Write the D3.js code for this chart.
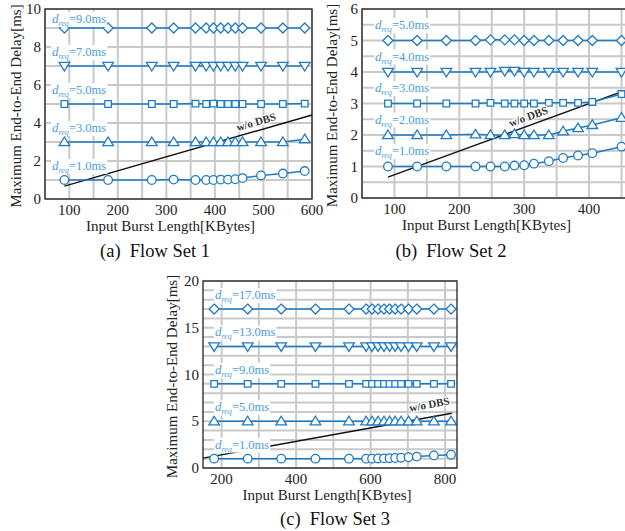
<!DOCTYPE html>
<html>
<head>
<meta charset="utf-8">
<script src="https://cdn.jsdelivr.net/npm/d3@7"></script>
<style>
  body { margin: 0; background: #fff; }
  svg { display: block; font-family: "Liberation Serif", "DejaVu Serif", serif; }
</style>
</head>
<body>
<svg id="fig" width="625" height="531"></svg>
<script>
// ---- data ----
// (a) Flow Set 1
var burst1 = [90, 180, 270, 315, 360, 382, 397, 412, 427, 442, 457, 495, 540, 585];
var fs1_d9 = [9, 9, 9, 9, 9, 9, 9, 9, 9, 9, 9, 9, 9, 9];
var fs1_d7 = [7, 7, 7, 7, 7, 7, 7, 7, 7, 7, 7, 7, 7, 7];
var fs1_d5 = [5, 5, 5, 5, 5.02, 5, 5.02, 5, 5, 5, 5, 5, 5, 5.02];
var fs1_d3 = [3, 3, 3, 3, 3, 3, 3, 3, 3, 3, 3, 3, 3, 3.15];
var fs1_d1 = [1, 1, 1, 1.02, 1, 1, 1, 1.02, 1.02, 1.04, 1.1, 1.24, 1.34, 1.47];
var fs1_dbsX = [90, 600];
var fs1_dbsY = [0.68, 4.42];
var fs1_labels = ['9.0', '7.0', '5.0', '3.0', '1.0'];
var fs1_xTicks = [100, 200, 300, 400, 500, 600];
var fs1_yTicks = [0, 2, 4, 6, 8, 10];

// (b) Flow Set 2
var burst2 = [90, 135, 180, 225, 248, 270, 285, 300, 315, 338, 360, 383, 405, 450];
var fs2_d5 = [5, 5, 5, 5, 5.02, 5.02, 5.02, 5, 5, 5, 5, 5, 5, 5];
var fs2_d4 = [4, 4, 4, 4, 4, 4.03, 4.03, 4, 4, 4, 4, 4, 4, 4];
var fs2_d3 = [3, 3, 3, 3, 3.02, 3, 3, 3, 3, 3.02, 3.02, 3.02, 3.05, 3.3];
var fs2_d2 = [2, 2, 2, 2.02, 2, 2, 2.03, 2, 2, 2, 2.12, 2.22, 2.32, 2.55];
var fs2_d1 = [1, 1, 1, 1, 1, 1, 1.03, 1.04, 1.09, 1.17, 1.27, 1.35, 1.42, 1.63];
var fs2_dbsX = [90, 460];
var fs2_dbsY = [0.66, 3.45];
var fs2_labels = ['5.0', '4.0', '3.0', '2.0', '1.0'];
var fs2_xTicks = [100, 200, 300, 400];
var fs2_yTicks = [0, 1, 2, 3, 4, 5, 6];

// (c) Flow Set 3
var burst3 = [180, 270, 360, 452, 542, 588, 604, 620, 636, 651, 666, 682, 702, 724, 770, 816];
var fs3_d17 = [17, 17, 17, 17, 17, 17, 17, 17, 17, 17, 17, 17, 17, 17, 17, 17];
var fs3_d13 = [13, 13, 13, 13, 13, 13, 13, 13, 13, 13, 13, 13, 13, 13, 13, 13];
var fs3_d9 = [9, 9, 9, 9, 9, 9, 9, 9, 9, 9, 9, 9, 9, 9, 9, 9];
var fs3_d5 = [5, 5, 5, 5, 5, 5, 5, 5, 5, 5, 5, 5, 5, 5, 5, 5];
var fs3_d1 = [1, 1, 1, 1, 1, 1, 1, 1.02, 1.03, 1.05, 1.07, 1.1, 1.15, 1.22, 1.35, 1.42];
var fs3_dbsX = [150, 818];
var fs3_dbsY = [1.05, 5.85];
var fs3_labels = ['17.0', '13.0', '9.0', '5.0', '1.0'];
var fs3_xTicks = [200, 400, 600, 800];
var fs3_yTicks = [0, 5, 10, 15, 20];

var markers = ['diamond', 'down', 'square', 'up', 'circle'];

var blue = '#1f7bc6', labelBlue = '#4a9de0', gridCol = '#c9c9c9';
var svg = d3.select('#fig');

function markerPath(type) {
  if (type == 'diamond') return 'M0,-5L5,0L0,5L-5,0Z';
  if (type == 'square') return 'M-3.3,-3.3H3.3V3.3H-3.3Z';
  if (type == 'up') return 'M0,-5L5.3,3.6H-5.3Z';
  if (type == 'down') return 'M0,5L5.3,-3.6H-5.3Z';
  return null;
}

function drawPanel(p) {
  var x = d3.scaleLinear().domain(p.xDomain).range([p.left, p.right]);
  var y = d3.scaleLinear().domain(p.yDomain).range([p.bottom, p.top]);
  var g = svg.append('g');

  // grid
  g.selectAll('.gx').data(d3.range(p.gridX[0], p.xDomain[1] + 0.001, p.gridX[1])).enter()
    .append('line')
    .attr('x1', function(d){ return x(d); }).attr('x2', function(d){ return x(d); })
    .attr('y1', p.top).attr('y2', p.bottom)
    .attr('stroke', gridCol).attr('stroke-width', 2);
  g.selectAll('.gy').data(d3.range(p.yDomain[0], p.yDomain[1] + 0.001, p.gridY)).enter()
    .append('line')
    .attr('y1', function(d){ return y(d); }).attr('y2', function(d){ return y(d); })
    .attr('x1', p.left).attr('x2', p.right)
    .attr('stroke', gridCol).attr('stroke-width', 2);

  // w/o DBS line
  var dbs = p.dbsX.map(function(v, i){ return [v, p.dbsY[i]]; });
  g.append('path').datum(dbs)
    .attr('d', d3.line().x(function(d){ return x(d[0]); }).y(function(d){ return y(d[1]); }))
    .attr('stroke', '#111').attr('stroke-width', 1.4).attr('fill', 'none');

  // series
  p.series.forEach(function(vals, k) {
    var pts = p.xs.map(function(v, i){ return [v, vals[i]]; });
    g.append('path').datum(pts)
      .attr('d', d3.line().x(function(d){ return x(d[0]); }).y(function(d){ return y(d[1]); }))
      .attr('stroke', blue).attr('stroke-width', 1.5).attr('fill', 'none');
    var m = markers[k];
    var sel = g.selectAll('.m' + k).data(pts).enter();
    if (m == 'circle') {
      sel.append('circle')
        .attr('cx', function(d){ return x(d[0]); }).attr('cy', function(d){ return y(d[1]); })
        .attr('r', 4.3).attr('fill', '#fff').attr('stroke', blue).attr('stroke-width', 1.3);
    } else {
      sel.append('path').attr('d', markerPath(m))
        .attr('transform', function(d){ return 'translate(' + x(d[0]) + ',' + y(d[1]) + ')'; })
        .attr('fill', '#fff').attr('stroke', blue).attr('stroke-width', 1.3);
    }
  });

  // d_req labels
  p.labels.forEach(function(lab, k) {
    var base = +lab;
    var ly = Math.max(y(base) - p.labOff, p.top + 10) + 4;
    var t = g.append('text').attr('x', p.left + p.labX).attr('y', ly).attr('fill', labelBlue);
    t.append('tspan').attr('font-style', 'italic').attr('font-size', 13).text('d');
    t.append('tspan').attr('font-style', 'italic').attr('font-size', 8).attr('dy', 3).text('req');
    t.append('tspan').attr('font-size', 12.5).attr('dy', -3).text('=' + lab + 'ms');
    var bb = t.node().getBBox();
    g.insert('rect', function(){ return t.node(); })
      .attr('x', bb.x - 1).attr('y', bb.y + 1).attr('width', bb.width + 2).attr('height', bb.height - 2)
      .attr('fill', '#fff');
  });

  // w/o DBS label
  var x0 = x(p.dbsX[0]), y0 = y(p.dbsY[0]), x1 = x(p.dbsX[1]), y1 = y(p.dbsY[1]);
  var ang = Math.atan2(y1 - y0, x1 - x0) * 180 / Math.PI;
  var f = (p.dbsLabX - p.dbsX[0]) / (p.dbsX[1] - p.dbsX[0]);
  var tx = x0 + f * (x1 - x0), ty = y0 + f * (y1 - y0);
  g.append('text')
    .attr('transform', 'translate(' + tx + ',' + ty + ') rotate(' + ang + ') translate(0,' + (-p.dbsLabOff) + ')')
    .attr('text-anchor', 'middle').attr('font-size', 11).attr('font-weight', 'bold')
    .attr('fill', '#333').attr('stroke', '#fff').attr('stroke-width', 2.5)
    .attr('paint-order', 'stroke').text('w/o DBS');

  // frame
  g.append('rect').attr('x', p.left).attr('y', p.top)
    .attr('width', p.right - p.left).attr('height', p.bottom - p.top)
    .attr('fill', 'none').attr('stroke', '#222').attr('stroke-width', 1.3);

  // tick labels
  g.selectAll('.tx').data(p.xTicks).enter().append('text')
    .attr('x', function(d){ return x(d); }).attr('y', p.bottom + 16)
    .attr('text-anchor', 'middle').attr('font-size', 15).attr('fill', '#222')
    .text(function(d){ return d; });
  g.selectAll('.ty').data(p.yTicks).enter().append('text')
    .attr('x', p.left - 4).attr('y', function(d){ return y(d) + 5; })
    .attr('text-anchor', 'end').attr('font-size', 15).attr('fill', '#222')
    .text(function(d){ return d; });

  // axis titles
  g.append('text').attr('x', (p.left + Math.min(p.right, 625)) / 2 + p.xLabShift).attr('y', p.bottom + 32)
    .attr('text-anchor', 'middle').attr('font-size', 15).attr('fill', '#222')
    .text('Input Burst Length[KBytes]');
  g.append('text')
    .attr('transform', 'translate(' + p.yLabX + ',' + ((p.top + p.bottom) / 2 + 2) + ') rotate(-90)')
    .attr('text-anchor', 'middle').attr('font-size', 15).attr('fill', '#222')
    .text('Maximum End-to-End Delay[ms]');

  // caption
  g.append('text').attr('x', p.capX).attr('y', p.capY)
    .attr('text-anchor', 'middle').attr('font-size', 18.5).attr('fill', '#111')
    .attr('xml:space', 'preserve').style('white-space', 'pre')
    .text(p.caption);
}

drawPanel({
  left: 45, right: 312, top: 9, bottom: 199,
  xDomain: [50, 600], yDomain: [0, 10], gridX: [50, 50], gridY: 1,
  xTicks: fs1_xTicks, yTicks: fs1_yTicks,
  xs: burst1, series: [fs1_d9, fs1_d7, fs1_d5, fs1_d3, fs1_d1], labels: fs1_labels,
  labX: 7, labOff: 14,
  dbsX: fs1_dbsX, dbsY: fs1_dbsY, dbsLabX: 490, dbsLabOff: 5,
  xLabShift: -8, yLabX: 21, caption: '(a)  Flow Set 1', capX: 155, capY: 257
});
drawPanel({
  left: 362, right: 628, top: 9, bottom: 198,
  xDomain: [50, 460], yDomain: [0, 6], gridX: [50, 50], gridY: 0.5,
  xTicks: fs2_xTicks, yTicks: fs2_yTicks,
  xs: burst2, series: [fs2_d5, fs2_d4, fs2_d3, fs2_d2, fs2_d1], labels: fs2_labels,
  labX: 13, labOff: 15.5,
  dbsX: fs2_dbsX, dbsY: fs2_dbsY, dbsLabX: 311, dbsLabOff: 5,
  xLabShift: -7, yLabX: 337, caption: '(b)  Flow Set 2', capX: 451, capY: 257
});
drawPanel({
  left: 203, right: 457, top: 281, bottom: 468,
  xDomain: [150, 832], yDomain: [0, 20], gridX: [200, 100], gridY: 1,
  xTicks: fs3_xTicks, yTicks: fs3_yTicks,
  xs: burst3, series: [fs3_d17, fs3_d13, fs3_d9, fs3_d5, fs3_d1], labels: fs3_labels,
  labX: 12, labOff: 14,
  dbsX: fs3_dbsX, dbsY: fs3_dbsY, dbsLabX: 764, dbsLabOff: 9,
  xLabShift: -3, yLabX: 177, caption: '(c)  Flow Set 3', capX: 335, capY: 525
});
</script>
</body>
</html>
